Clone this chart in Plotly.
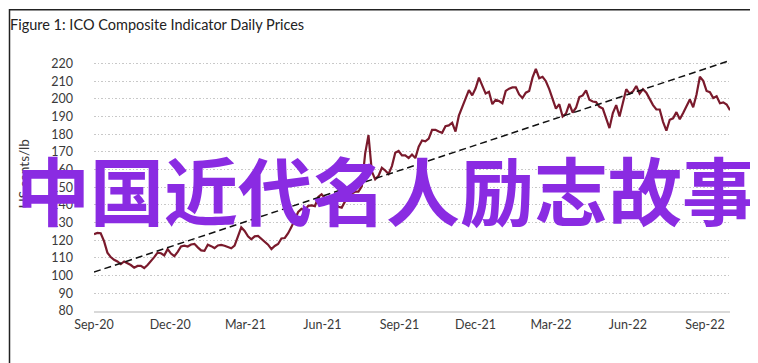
import pandas as pd
import plotly.graph_objects as go

# ICO composite indicator, sampled every 4 days from 1 Sep 2020 (US cents/lb)
start_date = "2020-09-01"
step_days = 4
prices = [
    123.5, 124.2, 124.0, 119.5, 113.0, 110.5, 109.0, 108.0, 106.5, 108.0,
    107.0, 106.0, 104.5, 105.5, 105.5, 104.3, 106.0, 108.0, 110.5, 113.0,
    112.7, 111.5, 115.0, 112.5, 111.0, 113.5, 116.5, 117.0, 116.5, 117.6,
    118.0, 116.0, 114.3, 114.0, 117.5, 116.7, 115.6, 117.1, 117.4, 116.9,
    116.2, 115.5, 117.0, 122.5, 127.3, 125.3, 122.3, 120.6, 122.2, 122.5,
    120.8, 119.0, 117.5, 115.0, 116.8, 117.9, 121.0, 121.3, 124.0, 127.6,
    131.6, 136.0, 137.8, 137.0, 139.5, 139.7, 139.3, 144.5, 146.0, 143.5,
    141.5, 144.0, 141.0, 139.0, 138.5, 142.0, 145.0, 146.5, 147.5, 147.5,
    150.5, 169.0, 179.5, 159.0, 154.5, 156.5, 161.0, 159.5, 157.5, 162.0,
    169.5, 170.5, 168.0, 168.0, 166.5, 168.5, 166.5, 173.0, 176.5, 176.0,
    177.5, 182.5, 182.5, 181.5, 180.8, 184.5, 185.0, 186.5, 181.5, 190.5,
    196.0, 200.2, 205.0, 202.0, 206.0, 212.0, 207.5, 203.0, 204.0, 197.0,
    199.5, 198.8, 197.5, 204.5, 205.8, 206.5, 206.5, 202.5, 200.5, 203.5,
    204.5, 212.0, 217.0, 211.7, 212.5, 210.0, 205.5, 200.0, 194.5, 197.0,
    190.0, 191.7, 197.2, 192.3, 195.0, 201.0, 202.0, 204.8, 199.5, 198.5,
    198.2, 195.5, 194.5, 189.0, 183.5, 192.0, 196.5, 190.0, 197.5, 205.5,
    203.0, 204.2, 207.3, 203.0, 205.5, 203.5, 200.0, 196.5, 194.0, 194.0,
    187.0, 182.0, 188.2, 189.0, 192.5, 188.5, 192.0, 195.5, 199.7, 195.3,
    202.5, 212.5, 210.2, 204.5, 203.8, 200.5, 201.5, 197.5, 198.0, 196.8,
    193.6,
]
dates = pd.date_range(start_date, periods=len(prices), freq=f"{step_days}D")

# linear trend end values (US cents/lb)
trend_values = [102.0, 221.7]
trend_dates = [dates[0], dates[-1]]

title_text = "Figure 1: ICO Composite Indicator Daily Prices"
y_title = "US cents/lb"
overlay_text = "中国近代名人励志故事"
y_ticks = list(range(80, 230, 10))

font_family = "Lato, 'Noto Sans', sans-serif"

fig = go.Figure()
fig.add_trace(go.Scatter(
    x=dates, y=prices, mode="lines",
    line=dict(color="#7A1A2C", width=2.2),
    hoverinfo="skip", showlegend=False,
))
fig.add_trace(go.Scatter(
    x=trend_dates, y=trend_values, mode="lines",
    line=dict(color="#111111", width=1.5, dash="7px,4px"),
    hoverinfo="skip", showlegend=False,
))

fig.update_layout(
    width=758, height=363,
    margin=dict(l=86, r=36, t=52, b=60),
    paper_bgcolor="white", plot_bgcolor="white",
    font=dict(family=font_family, size=12.5, color="#3a3a3a"),
    title=dict(text=title_text, x=2 / 758, xanchor="left",
               y=1 - 16.5 / 363, yanchor="middle",
               font=dict(family=font_family, size=14.5, color="#222222")),
    xaxis=dict(
        type="date",
        range=["2020-09-01", "2022-10-01"],
        tick0="2020-09-01", dtick="M3", tickformat="%b-%y",
        showgrid=False, zeroline=False,
        showline=True, linecolor="#D9D9D9", linewidth=2,
        ticks="", ticklabelstandoff=1,
    ),
    yaxis=dict(
        range=[80, 222],
        tickvals=y_ticks,
        showgrid=True, gridcolor="#C8C8C8", gridwidth=1,
        griddash="1.5px,2px",
        zeroline=False, showline=False, ticks="",
        ticklabelstandoff=20,
    ),
    annotations=[
        dict(text=y_title, xref="paper", yref="paper",
             x=(16 - 86) / 636, y=(302.7 - 166) / 251, textangle=-90,
             showarrow=False, xanchor="center", yanchor="middle",
             font=dict(family=font_family, size=13.5, color="#3a3a3a")),
        dict(text=overlay_text, xref="paper", yref="paper",
             x=(378 - 86) / 636, y=(302.7 - 179) / 251,
             showarrow=False, xanchor="center", yanchor="middle",
             font=dict(family="Noto Sans CJK SC", size=74, color="#8A2BE2",
                       weight="bold")),
    ],
    shapes=[
        dict(type="rect", xref="paper", yref="paper",
             x0=(1.5 - 86) / 636, x1=(756 - 86) / 636,
             y0=(302.7 - 359) / 251, y1=(302.7 - 1.5) / 251,
             line=dict(color="#222222", width=1.5), fillcolor="rgba(0,0,0,0)",
             layer="above"),
    ],
)

fig.write_html("out.html")
